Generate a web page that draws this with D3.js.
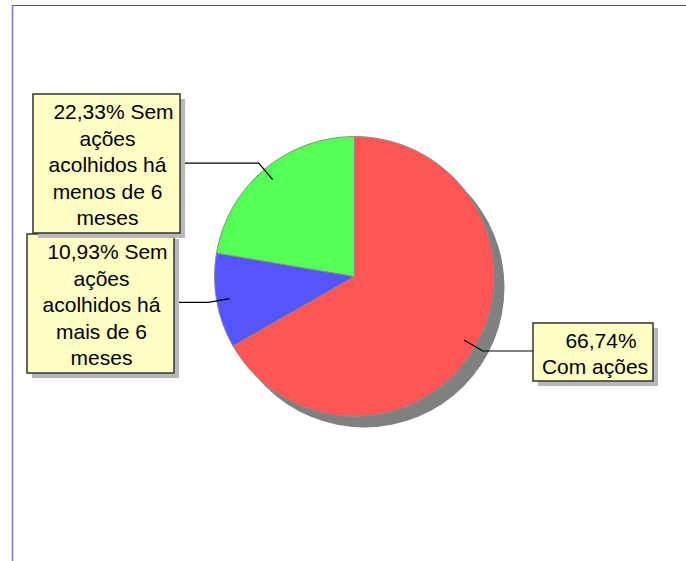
<!DOCTYPE html>
<html>
<head>
<meta charset="utf-8">
<script src="https://cdn.jsdelivr.net/npm/d3@7"></script>
<style>
  body { margin: 0; background: #fff; }
  svg { display: block; }
  text { font-family: "Liberation Sans", Arial, sans-serif; font-size: 21px; fill: #000; }
</style>
</head>
<body>
<div id="chart"></div>
<script>
// chart values
const categories = ['Com ações', 'Sem ações acolhidos há mais de 6 meses', 'Sem ações acolhidos há menos de 6 meses'];
const values = [66.74, 10.93, 22.33];
const percentLabels = ['66,74%', '10,93%', '22,33%'];
const labelLines = [
    ['66,74%', 'Com ações'],
    ['10,93% Sem', 'ações', 'acolhidos há', 'mais de 6', 'meses'],
    ['22,33% Sem', 'ações', 'acolhidos há', 'menos de 6', 'meses']
];

const width = 686;
const height = 561;
const cx = 354.5, cy = 276.5, radius = 140;

const svg = d3.select('#chart')
    .append('svg')
    .attr('width', width)
    .attr('height', height);

// frame lines
svg.append('line')
    .attr('x1', 12).attr('x2', 686).attr('y1', 5.5).attr('y2', 5.5)
    .attr('stroke', '#4848ee').attr('stroke-width', 1.2);
svg.append('line')
    .attr('x1', 12.5).attr('x2', 12.5).attr('y1', 5).attr('y2', 561)
    .attr('stroke', '#7272ff').attr('stroke-width', 1.5);

const color = d3.scaleOrdinal()
    .domain(categories)
    .range(['#ff5555', '#5555ff', '#55ff55']);

const pie = d3.pie().sort(null).value(d => d);
const arcs = pie(values);

const arc = d3.arc().innerRadius(0).outerRadius(radius);
const innerPt = d3.arc().innerRadius(radius * 0.907).outerRadius(radius * 0.907);
const elbowPt = d3.arc().innerRadius(radius * 1.06).outerRadius(radius * 1.06);

const g = svg.append('g').attr('transform', `translate(${cx},${cy})`);

// drop shadow of the pie
g.append('circle')
    .attr('cx', 10).attr('cy', 11).attr('r', radius)
    .attr('fill', '#808080');

g.selectAll('path.slice')
    .data(arcs)
    .enter()
    .append('path')
    .attr('class', 'slice')
    .attr('d', arc)
    .attr('fill', (d, i) => color(categories[i]))
    .attr('stroke', '#8a8a8a')
    .attr('stroke-width', 1);

// label boxes (layout)
const boxes = [
    { x: 533, y: 323, w: 120, h: 58 },
    { x: 27, y: 234, w: 147, h: 139 },
    { x: 33, y: 94, w: 147, h: 139 }
];
const lineH = 26.5;

arcs.forEach((d, i) => {
    const b = boxes[i];
    const p1 = innerPt.centroid(d);
    const p2 = elbowPt.centroid(d);
    const toRight = p2[0] > 0;
    const edgeX = (toRight ? b.x : b.x + b.w) - cx;
    g.append('polyline')
        .attr('points', [p1, p2, [edgeX, p2[1]]].map(p => p.join(',')).join(' '))
        .attr('fill', 'none')
        .attr('stroke', '#000')
        .attr('stroke-width', 1.2);

    const lg = svg.append('g');
    lg.append('rect')
        .attr('x', b.x + 5).attr('y', b.y + 5)
        .attr('width', b.w).attr('height', b.h)
        .attr('fill', '#b8b8b8');
    lg.append('rect')
        .attr('x', b.x).attr('y', b.y)
        .attr('width', b.w).attr('height', b.h)
        .attr('fill', '#ffffc4')
        .attr('stroke', '#333')
        .attr('stroke-width', 1.5);

    const lines = labelLines[i];
    const midY = b.y + b.h / 2 + 1.5;
    const startY = midY - (lines.length - 1) * lineH / 2;
    lines.forEach((t, j) => {
        lg.append('text')
            .attr('x', b.x + b.w / 2 + (j === 0 ? 6 : 0) + (i === 0 ? 2 : 1))
            .attr('y', startY + j * lineH)
            .attr('dy', '0.35em')
            .attr('text-anchor', 'middle')
            .text(t);
    });
});
</script>
</body>
</html>
